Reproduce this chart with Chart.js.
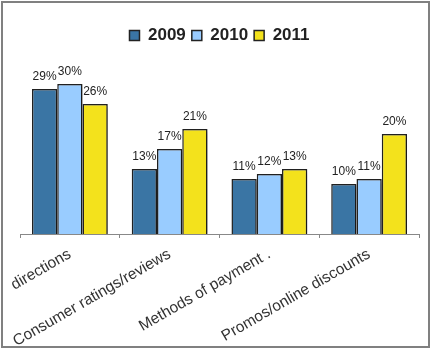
<!DOCTYPE html>
<html>
<head>
<meta charset="utf-8">
<script src="https://cdn.jsdelivr.net/npm/chart.js@4.4.1/dist/chart.umd.min.js"></script>
<style>
  html, body { margin: 0; padding: 0; background: #fff; }
  #wrap { width: 432px; height: 351px; position: relative; }
</style>
</head>
<body>
<div id="wrap"><canvas id="c" width="432" height="351"></canvas></div>
<script>
const categories = ["directions", "Consumer ratings/reviews", "Methods of payment .", "Promos/online discounts"];
const seriesNames = ["2009", "2010", "2011"];
const values2009 = [29, 13, 11, 10];
const values2010 = [30, 17, 12, 11];
const values2011 = [26, 21, 13, 20];
const seriesColors = ["#3A75A4", "#99CCFF", "#F3E21C"];

const borderPlugin = {
  id: 'frame',
  beforeDraw(chart) {
    const ctx = chart.ctx;
    ctx.save();
    ctx.fillStyle = '#fff';
    ctx.fillRect(0, 0, chart.width, chart.height);
    ctx.strokeStyle = '#808080';
    ctx.lineWidth = 2;
    ctx.strokeRect(2, 2, 427, 345);
    ctx.restore();
  }
};

const shadowPlugin = {
  id: 'barShadow',
  beforeDatasetsDraw(chart) {
    const ctx = chart.ctx;
    ctx.save();
    ctx.shadowColor = 'rgba(0,0,0,0.3)';
    ctx.shadowOffsetX = 3;
    ctx.shadowOffsetY = 1;
    ctx.shadowBlur = 4;
  },
  afterDatasetsDraw(chart) {
    chart.ctx.restore();
  }
};

const labelPlugin = {
  id: 'valueLabels',
  afterDatasetsDraw(chart) {
    const ctx = chart.ctx;
    ctx.save();
    ctx.font = '12px "Liberation Sans", Arial, sans-serif';
    ctx.fillStyle = '#222';
    ctx.textAlign = 'center';
    ctx.textBaseline = 'alphabetic';
    chart.data.datasets.forEach((ds, di) => {
      const meta = chart.getDatasetMeta(di);
      meta.data.forEach((bar, i) => {
        ctx.fillText(ds.data[i] + '%', bar.x, bar.y - 9);
      });
    });
    ctx.restore();
  }
};

new Chart(document.getElementById('c'), {
  type: 'bar',
  data: {
    labels: categories,
    datasets: [
      { label: seriesNames[0], data: values2009 },
      { label: seriesNames[1], data: values2010 },
      { label: seriesNames[2], data: values2011 }
    ].map((d, i) => Object.assign(d, {
      backgroundColor: seriesColors[i],
      borderColor: '#222',
      borderWidth: 1.5,
      categoryPercentage: 0.76,
      barPercentage: 1.0
    }))
  },
  options: {
    responsive: false,
    animation: false,
    devicePixelRatio: 1,
    layout: { padding: { left: 20, right: 13, top: 21, bottom: 0 } },
    plugins: {
      legend: {
        display: true,
        position: 'top',
        labels: {
          boxWidth: 10,
          boxHeight: 10,
          padding: 6,
          color: '#222',
          font: { family: '"Liberation Sans", Arial, sans-serif', size: 17, weight: 'bold' }
        }
      },
      tooltip: { enabled: false }
    },
    scales: {
      x: {
        offset: true,
        afterFit(scale) { scale.height = 117; },
        grid: { display: true, drawOnChartArea: false, offset: true, tickLength: 4, color: '#888' },
        border: { display: true, color: '#888', width: 1 },
        ticks: {
          minRotation: 30,
          maxRotation: 30,
          autoSkip: false,
          padding: 7,
          color: '#333',
          font: { family: '"Liberation Sans", Arial, sans-serif', size: 15.5 }
        }
      },
      y: {
        display: false,
        min: 0,
        max: 36
      }
    }
  },
  plugins: [borderPlugin, shadowPlugin, labelPlugin]
});
</script>
</body>
</html>
